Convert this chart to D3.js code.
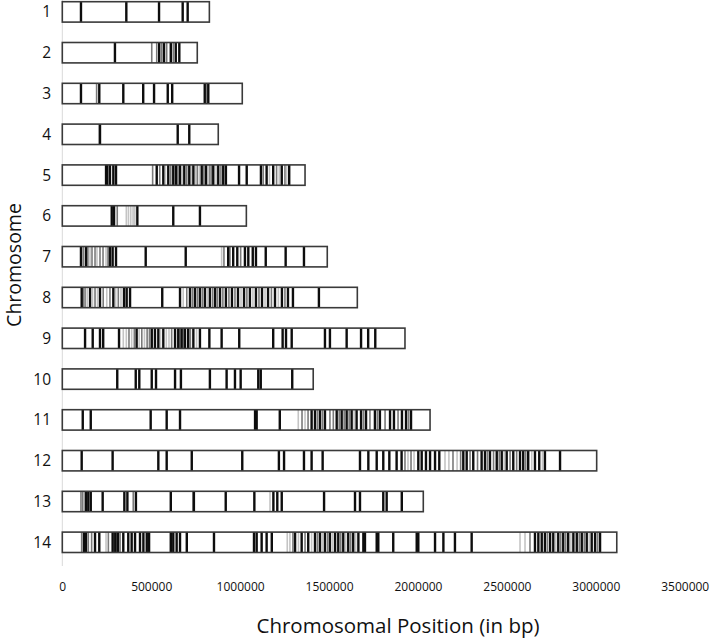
<!DOCTYPE html>
<html><head><meta charset="utf-8">
<script src="https://cdn.jsdelivr.net/npm/d3@7"></script>
<style>body{margin:0;background:#fff}svg{display:block}text{font-family:"Open Sans",sans-serif;fill:#111}</style>
</head><body><svg id="c" width="710" height="638"></svg>
<script>
// ---- data ----
const chromosomes = ["1","2","3","4","5","6","7","8","9","10","11","12","13","14"];
const lengths = [827000, 759000, 1012000, 877000, 1365000, 1035000, 1490000, 1659000, 1927000, 1411000, 2068000, 3005000, 2030000, 3118000];
const xTicks = [0, 500000, 1000000, 1500000, 2000000, 2500000, 3000000, 3500000];
// marker positions [bp, tone]  tone: 0 = black, 1 = grey, 2 = light grey
const marks1 = [[105000,0],[360000,0],[544000,0],[677000,0],[705000,0]];
const marks2 = [[296000,0],[503000,1],[531000,1],[545000,0],[559000,1],[572000,0],[587000,1],[610000,0],[624000,1],[638000,0],[658000,0]];
const marks3 = [[105000,0],[193000,1],[208000,0],[343000,0],[455000,0],[516000,0],[593000,0],[618000,0],[801000,0],[812000,1],[821000,0]];
const marks4 = [[205000,2],[212000,0],[649000,0],[714000,0]];
const marks5 = [[246000,0],[253000,0],[268000,0],[287000,0],[302000,0],
  [508000,1],[531000,0],[548000,1],[568000,0],[580000,2],[596000,0],[610000,1],[624000,0],[639000,0],[650000,1],[662000,0],[675000,2],[686000,0],[700000,1],[714000,0],[725000,2],[737000,0],[748000,2],[759000,1],[771000,2],[784000,0],[796000,1],[808000,0],[820000,2],[830000,1],[840000,1],[849000,0],[865000,2],[877000,0],[892000,1],[905000,0],[920000,0],
  [994000,0],[1037000,0],[1117000,0],[1130000,1],[1149000,0],[1165000,2],[1186000,0],[1205000,1],[1220000,2],[1234000,0],[1252000,1],[1262000,2],[1276000,0]];
const marks6 = [[278000,0],[291000,0],[309000,1],[360000,2],[372000,2],[385000,2],[398000,2],[408000,2],[422000,0],[624000,0],[774000,0]];
const marks7 = [[105000,0],[118000,1],[133000,0],[144000,1],[156000,2],[167000,1],[184000,1],[195000,2],[212000,1],[229000,1],[246000,2],[257000,1],[268000,0],[283000,0],[302000,0],[469000,0],[694000,0],
  [896000,2],[909000,1],[933000,0],[943000,1],[961000,0],[984000,0],[1003000,1],[1027000,0],[1046000,0],[1071000,0],[1089000,0],[1144000,0],[1256000,0],[1359000,0]];
const marks8 = [[109000,0],[118000,1],[128000,1],[140000,2],[156000,0],[170000,2],[184000,1],[198000,2],[212000,0],[230000,1],[250000,2],[268000,1],[287000,0],[300000,2],[315000,1],[330000,2],[347000,0],[362000,0],[381000,0],[562000,0],[662000,0],
  [680000,2],[700000,1],[718000,0],[732000,1],[746000,0],[760000,1],[774000,0],[788000,1],[802000,0],[816000,2],[830000,0],[845000,1],[859000,0],[872000,1],[887000,0],[903000,1],[920000,0],[937000,1],[954000,0],[971000,1],[988000,0],[1005000,2],[1022000,0],[1038000,1],[1055000,0],[1072000,2],[1089000,0],[1106000,1],[1123000,0],[1140000,2],[1157000,0],[1176000,1],[1196000,0],[1215000,2],[1235000,0],[1252000,1],[1269000,0],[1297000,0],[1443000,0]];
const marks9 = [[128000,0],[171000,0],[212000,0],[230000,0],[319000,0],
  [343000,2],[360000,2],[375000,1],[390000,2],[405000,1],[418000,0],[432000,2],[447000,1],[462000,2],[477000,1],[490000,1],[503000,0],[521000,0],[540000,0],[552000,2],[568000,0],[585000,2],[600000,2],[615000,1],[634000,0],[652000,0],[661000,1],[671000,0],[680000,1],[690000,0],[708000,0],[720000,1],[737000,0],[755000,2],[774000,0],
  [827000,0],[896000,0],[995000,0],[1186000,0],[1239000,0],[1258000,0],[1290000,0],[1477000,0],[1505000,0],[1599000,0],[1680000,0],[1720000,0],[1760000,0]];
const marks10 = [[309000,0],[413000,0],[433000,0],[503000,0],[527000,0],[634000,0],[667000,0],[830000,0],[924000,0],[971000,0],[1003000,0],[1102000,0],[1116000,0],[1293000,0]];
const marks11 = [[115000,0],[160000,0],[497000,0],[587000,0],[662000,0],[1084000,0],[1093000,0],[1223000,0],
  [1327000,2],[1348000,1],[1365000,2],[1382000,1],[1402000,0],[1421000,0],[1435000,1],[1449000,0],[1463000,1],[1477000,0],[1505000,1],[1524000,1],[1543000,0],[1557000,1],[1571000,0],[1585000,1],[1599000,0],[1613000,1],[1627000,0],[1641000,2],[1655000,0],[1680000,0],[1694000,1],[1708000,0],[1730000,1],[1758000,0],[1772000,1],[1786000,0],[1815000,1],[1843000,0],[1865000,0],[1888000,1],[1910000,0],[1933000,0],[1947000,1],[1961000,0]];
const marks12 = [[109000,0],[283000,0],[540000,0],[587000,0],[728000,0],[1012000,0],[1218000,0],[1247000,0],[1359000,0],[1402000,0],[1464000,0],
  [1674000,0],[1721000,0],[1768000,0],[1805000,0],[1839000,0],[1880000,0],[1908000,0],[1927000,1],[1944000,2],[1961000,1],[1978000,2],[2002000,0],[2021000,0],[2045000,0],[2068000,0],[2096000,0],[2120000,0],[2152000,2],[2174000,2],[2197000,1],[2220000,2],[2240000,1],
  [2255000,0],[2274000,0],[2293000,1],[2311000,0],[2335000,1],[2358000,0],[2377000,0],[2391000,1],[2405000,0],[2425000,1],[2443000,0],[2457000,1],[2471000,0],[2485000,2],[2499000,0],[2518000,1],[2536000,0],[2555000,1],[2574000,0],[2592000,0],[2606000,1],[2620000,0],[2640000,2],[2658000,0],[2682000,0],[2700000,2],[2714000,0],[2799000,0]];
const marks13 = [[105000,1],[115000,1],[132000,0],[146000,0],[160000,0],[227000,0],[349000,0],[366000,0],[399000,1],[414000,0],[610000,0],[735000,1],[740000,0],[919000,0],[1080000,0],[1168000,2],[1187000,0],[1209000,0],[1234000,0],[1472000,0],[1646000,0],[1674000,0],[1805000,0],[1824000,0],[1909000,0]];
const marks14 = [[109000,1],[122000,0],[133000,0],[146000,1],[165000,1],[184000,0],[208000,0],[246000,2],[259000,1],[283000,0],[291000,1],[298000,0],[306000,1],[313000,0],[325000,1],[343000,0],[371000,0],[390000,0],[409000,0],[437000,0],[456000,0],[475000,0],[488000,0],
  [610000,0],[624000,0],[643000,0],[662000,0],[700000,0],[853000,0],[1078000,0],[1093000,0],[1121000,0],[1149000,0],[1178000,0],
  [1265000,2],[1280000,2],[1297000,1],[1309000,0],[1328000,2],[1346000,0],[1365000,1],[1383000,0],[1402000,2],[1421000,0],[1435000,1],[1449000,0],[1463000,2],[1477000,0],[1492000,1],[1505000,0],[1520000,2],[1534000,0],[1552000,0],[1566000,1],[1580000,0],[1594000,2],[1608000,0],[1622000,1],[1636000,0],[1650000,2],[1665000,0],
  [1693000,0],[1702000,0],[1768000,0],[1777000,0],[1861000,0],[1993000,0],[2002000,0],[2096000,0],[2143000,0],[2208000,0],[2302000,0],
  [2574000,2],[2602000,2],[2630000,1],[2658000,0],[2677000,0],[2696000,0],[2714000,0],[2728000,1],[2743000,0],[2761000,0],[2775000,2],[2789000,0],[2803000,1],[2817000,0],[2831000,1],[2845000,0],[2860000,2],[2874000,0],[2893000,0],[2907000,1],[2921000,0],[2935000,1],[2949000,0],[2963000,2],[2977000,0],[2996000,0],[3010000,1],[3024000,0]];
const allMarks = [marks1,marks2,marks3,marks4,marks5,marks6,marks7,marks8,marks9,marks10,marks11,marks12,marks13,marks14];

// ---- chart ----
const svg = d3.select("#c");
const x = d3.scaleLinear().domain([0, 3500000]).range([62.3, 684.7]);
const y = d3.scaleBand().domain(chromosomes).range([1.7, 552.5]).paddingInner(0.5).paddingOuter(0);
const toneColor = ["#0d0d0d", "#7a7a7a", "#c4c4c4"];
const toneWidth = [2.4, 1.6, 1.6];

// y axis line
svg.append("line").attr("x1", x(0)).attr("x2", x(0)).attr("y1", 0).attr("y2", 566)
  .attr("stroke", "#d9d9d9").attr("stroke-width", 1);

const rows = svg.append("g").selectAll("g").data(chromosomes).join("g")
  .attr("transform", d => `translate(0,${y(d)})`);

rows.append("rect").attr("x", x(0)).attr("y", 0)
  .attr("width", (d, i) => x(lengths[i]) - x(0)).attr("height", y.bandwidth())
  .attr("fill", "#fff");

rows.each(function(d, i) {
  const data = allMarks[i].slice().sort((a, b) => b[1] - a[1]);
  d3.select(this).selectAll("line.m").data(data).join("line").attr("class", "m")
    .attr("x1", m => x(m[0])).attr("x2", m => x(m[0]))
    .attr("y1", 0).attr("y2", y.bandwidth())
    .attr("stroke", m => toneColor[m[1]]).attr("stroke-width", m => toneWidth[m[1]]);
});

rows.append("rect").attr("x", x(0)).attr("y", 0)
  .attr("width", (d, i) => x(lengths[i]) - x(0)).attr("height", y.bandwidth())
  .attr("fill", "none").attr("stroke", "#3a3a3a").attr("stroke-width", 1.6);

rows.append("text").attr("x", 51).attr("y", y.bandwidth() / 2).attr("dy", "0.36em")
  .attr("text-anchor", "end").attr("font-size", 15.5).text(d => d);

// x axis
const xAxis = svg.append("g").attr("transform", "translate(0,576)")
  .call(d3.axisBottom(x).tickValues(xTicks).tickFormat(d3.format("d")).tickSize(0).tickPadding(6));
xAxis.select(".domain").remove();
xAxis.selectAll("text").attr("font-size", 12).attr("font-family", "'Open Sans',sans-serif").attr("fill", "#111");

svg.append("text").attr("x", 398).attr("y", 633).attr("text-anchor", "middle")
  .attr("font-size", 20.5).text("Chromosomal Position (in bp)");
svg.append("text").attr("transform", "translate(21,265) rotate(-90)").attr("text-anchor", "middle")
  .attr("font-size", 19.5).text("Chromosome");
</script></body></html>
